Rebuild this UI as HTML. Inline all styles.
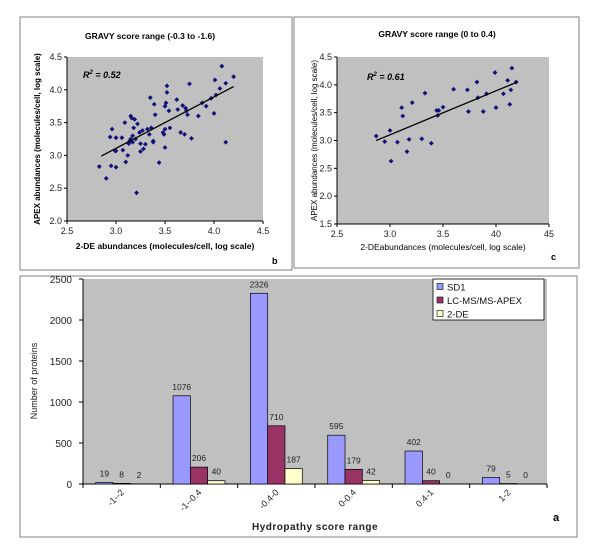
<!DOCTYPE html>
<html><head><meta charset="utf-8"><style>
body{margin:0;background:#fff;width:600px;height:556px;overflow:hidden;font-family:"Liberation Sans",Arial,sans-serif}
svg{display:block}
text{font-family:"Liberation Sans",Arial,sans-serif}
</style></head><body>
<svg id="fig" width="600" height="556" viewBox="0 0 600 556">
<rect x="20" y="17" width="272" height="253" fill="#fff" stroke="#808080" stroke-width="1"/>
<rect x="294" y="17" width="285" height="251" fill="#fff" stroke="#808080" stroke-width="1"/>
<rect x="20" y="276" width="557" height="261" fill="#fff" stroke="#808080" stroke-width="1"/>
<g id="pb"></g>
<g id="pc"></g>
<g id="pa"></g>
</svg>
<script>
// Panel b data
const bX=[2.83,2.9,2.95,2.94,2.96,2.99,3.0,3.0,3.0,3.06,3.07,3.09,3.1,3.12,3.13,3.14,3.15,3.16,3.17,3.18,3.19,3.2,3.21,3.22,3.15,3.17,3.24,3.25,3.25,3.27,3.28,3.3,3.32,3.34,3.35,3.36,3.38,3.38,3.39,3.4,3.44,3.48,3.49,3.5,3.5,3.5,3.51,3.52,3.52,3.54,3.55,3.62,3.63,3.66,3.68,3.7,3.71,3.72,3.73,3.75,3.77,3.84,3.88,3.92,3.97,4.0,4.01,4.02,4.06,4.08,4.12,4.12,4.2];
const bY=[2.83,2.65,2.84,3.28,3.4,3.07,3.07,2.82,3.27,3.27,3.08,3.5,2.9,3.0,3.18,3.22,3.6,3.57,3.3,3.42,3.55,3.25,2.43,3.48,3.25,3.2,3.35,3.06,3.18,3.38,3.1,3.17,3.4,3.32,3.88,3.42,3.22,3.2,3.78,3.62,2.89,3.35,3.32,3.12,3.75,3.4,3.8,3.96,4.06,3.68,3.42,3.85,3.7,3.35,3.76,3.32,3.72,3.68,3.62,4.09,3.26,3.6,3.8,3.75,3.87,3.64,4.15,3.92,4.02,4.36,4.1,3.2,4.2];
const bTrend=[[2.85,2.99],[4.2,4.05]];
const bXTicks=["2.5","3.0","3.5","4.0","4.5"];
const bYTicks=["2.0","2.5","3.0","3.5","4.0","4.5"];
// Panel c data
const cX=[2.87,2.95,3.0,3.01,3.07,3.11,3.12,3.16,3.18,3.21,3.3,3.33,3.39,3.44,3.46,3.45,3.5,3.6,3.73,3.74,3.82,3.83,3.88,3.91,3.99,4.0,4.07,4.11,4.13,4.14,4.15,4.19];
const cY=[3.08,2.98,3.18,2.63,2.97,3.59,3.44,2.8,3.02,3.68,3.03,3.85,2.95,3.54,3.54,3.45,3.6,3.92,3.91,3.52,4.05,3.77,3.52,3.84,4.22,3.59,3.84,4.08,3.65,3.91,4.3,4.05];
const cTrend=[[2.87,3.0],[4.2,4.05]];
const cXTicks=["2.5","3.0","3.5","40","45"];
const cYTicks=["1.5","2.0","2.5","3.0","3.5","4.0","4.5"];
// Panel a data
const categories=["-1 - -2","-1 - -0.4","-0.4 - 0","0 - 0.4","0.4 - 1","1 - 2"];
const sd1=[19,1076,2326,595,402,79];
const apex=[8,206,710,179,40,5];
const twoDE=[2,40,187,42,0,0];
const aYTicks=["0","500","1000","1500","2000","2500"];

const NS="http://www.w3.org/2000/svg";
function mk(parent,tag,attrs,txt){const e=document.createElementNS(NS,tag);for(const k in attrs)e.setAttribute(k,attrs[k]);if(txt!==undefined)e.textContent=txt;parent.appendChild(e);return e;}

function scatter(gid,o){
  const g=document.getElementById(gid);
  const sx=v=>o.x0+(v-o.xmin)/(o.xmax-o.xmin)*(o.x1-o.x0);
  const sy=v=>o.y1-(v-o.ymin)/(o.ymax-o.ymin)*(o.y1-o.y0);
  const bg=mk(g,'rect',{x:o.x0,y:o.y0,width:o.x1-o.x0,height:o.y1-o.y0,fill:'#c0c0c0'});
  
  
  mk(g,'line',{x1:o.x0,y1:o.y0,x2:o.x0,y2:o.y1,stroke:'#000','stroke-width':1});
  mk(g,'line',{x1:o.x0,y1:o.y1,x2:o.x1,y2:o.y1,stroke:'#000','stroke-width':1});
  o.xt.forEach((t,i)=>{const v=o.xmin+i*0.5,x=sx(v);
    mk(g,'line',{x1:x,y1:o.y1,x2:x,y2:o.y1+3,stroke:'#000'});
    const e=mk(g,'text',{x:x,y:o.y1+13,'font-size':9,'text-anchor':'middle',fill:'#222'},t);
    
    });
  o.yt.forEach((t,i)=>{const v=o.ymin+i*0.5,y=sy(v);
    mk(g,'line',{x1:o.x0-3,y1:y,x2:o.x0,y2:y,stroke:'#000'});
    const e=mk(g,'text',{x:o.x0-5,y:y+3,'font-size':9,'text-anchor':'end',fill:'#222'},t);
    
    });
  o.xs.forEach((xv,i)=>{const x=sx(xv),y=sy(o.ys[i]);
    const p=mk(g,'path',{d:`M${x} ${y-2.4}L${x+2.4} ${y}L${x} ${y+2.4}L${x-2.4} ${y}Z`,fill:'#10107a'});
    
    });
  const tl=mk(g,'line',{x1:sx(o.tr[0][0]),y1:sy(o.tr[0][1]),x2:sx(o.tr[1][0]),y2:sy(o.tr[1][1]),stroke:'#000','stroke-width':1.3});
  
  
  const r=mk(g,'text',{x:o.rx,y:o.ry,'font-size':9,'font-weight':'bold','font-style':'italic'});
  r.innerHTML='R<tspan dy="-4" font-size="6">2</tspan><tspan dy="4"> = '+o.r2+'</tspan>';
  
  
  const ti=mk(g,'text',{x:o.tx,y:o.ty,'font-size':8.5,'font-weight':'bold','text-anchor':'middle'},o.title);
  
  
  const xl=mk(g,'text',{x:(o.x0+o.x1)/2,y:o.xly,'font-size':8.5,'font-weight':o.bold?'bold':'normal','text-anchor':'middle'},o.xlabel);
  
  
  const yl=mk(g,'text',{x:0,y:0,'font-size':8,'font-weight':o.bold?'bold':'normal','text-anchor':'middle',transform:`translate(${o.ylx},${(o.y0+o.y1)/2}) rotate(-90)`},o.ylabel);
  
  
  const pl=mk(g,'text',{x:o.lx,y:o.ly,'font-size':9,'font-weight':'bold'},o.letter);
  
  
}
scatter('pb',{x0:67,x1:263,y0:57,y1:221,xmin:2.5,xmax:4.5,ymin:2.0,ymax:4.5,xt:bXTicks,yt:bYTicks,xs:bX,ys:bY,tr:bTrend,r2:'0.52',rx:83,ry:78,title:'GRAVY score range (-0.3 to -1.6)',tx:150,ty:39,xlabel:'2-DE abundances (molecules/cell, log scale)',xly:249,ylabel:'APEX abundances (molecules/cell, log scale)',ylx:40,bold:true,letter:'b',lx:272,ly:264});
scatter('pc',{x0:337,x1:549,y0:57,y1:224,xmin:2.5,xmax:4.5,ymin:1.5,ymax:4.5,xt:cXTicks,yt:cYTicks,xs:cX,ys:cY,tr:cTrend,r2:'0.61',rx:367,ry:80,title:'GRAVY score range (0 to 0.4)',tx:437,ty:37,xlabel:'2-DEabundances (molecules/cell, log scale)',xly:250,ylabel:'APEX abundances (molecules/cell, log scale)',ylx:317,bold:false,letter:'c',lx:551,ly:260});

(function(){
  const g=document.getElementById('pa');
  const X0=83,X1=547,Y0=279,Y1=484,ymax=2500;
  const sy=v=>Y1-v/ymax*(Y1-Y0);
  const cw=(X1-X0)/categories.length;
  const bg=mk(g,'rect',{x:X0,y:Y0,width:X1-X0,height:Y1-Y0,fill:'#c0c0c0'});
  
  
  mk(g,'line',{x1:X0,y1:Y0,x2:X0,y2:Y1,stroke:'#000'});
  mk(g,'line',{x1:X0,y1:Y1,x2:X1,y2:Y1,stroke:'#000'});
  aYTicks.forEach((t,i)=>{const y=sy(i*500);
    mk(g,'line',{x1:X0-4,y1:y,x2:X0,y2:y,stroke:'#000'});
    const e=mk(g,'text',{x:X0-11,y:y+4,'font-size':10,'text-anchor':'end',fill:'#222'},t);
    
    });
  for(let i=0;i<=categories.length;i++){const x=X0+i*cw;mk(g,'line',{x1:x,y1:Y1,x2:x,y2:Y1+4,stroke:'#000'});}
  const series=[sd1,apex,twoDE],cols=['#9999ff','#993366','#ffffcc'],names=['sd1','lc-ms-apex','2-de'];
  const bw=17.3,off=(cw-3*bw)/2;
  categories.forEach((c,i)=>{
    series.forEach((s,j)=>{const x=X0+i*cw+off+j*bw,y=sy(s[i]);
      const r=mk(g,'rect',{x:x,y:y,width:bw,height:Y1-y,fill:cols[j],stroke:'#000','stroke-width':0.7});
      
      
      const t=mk(g,'text',{x:x+bw/2,y:y-6,'font-size':8.5,'text-anchor':'middle',fill:'#222'},String(s[i]));
      
      });
    const cx=X0+i*cw+cw/2+3;
    const l=mk(g,'text',{x:0,y:0,'font-size':9,'text-anchor':'end',fill:'#222',transform:`translate(${cx},${Y1+9}) rotate(-45)`},c.replace(/ /g,''));
    
    
  });
  const lg=mk(g,'g',{});
  
  
  mk(lg,'rect',{x:433,y:279,width:111,height:41,fill:'#fff',stroke:'#000','stroke-width':0.8});
  ['SD1','LC-MS/MS-APEX','2-DE'].forEach((n,j)=>{const y=287+j*13.5;
    const e=mk(lg,'rect',{x:437,y:y-3.5,width:6,height:6,fill:cols[j],stroke:'#000','stroke-width':0.6});
    
    
    const t=mk(lg,'text',{x:447,y:y+3.5,'font-size':9.5,fill:'#111'},n);
    
    });
  const xt=mk(g,'text',{x:315,y:530,'font-size':10,'font-weight':'bold','text-anchor':'middle','letter-spacing':'0.5',fill:'#222'},'Hydropathy score range');
  
  
  const yt=mk(g,'text',{x:0,y:0,'font-size':9,'text-anchor':'middle',fill:'#222',transform:`translate(37,381) rotate(-90)`},'Number of proteins');
  
  
  const a=mk(g,'text',{x:553,y:521,'font-size':11,'font-weight':'bold'},'a');
  
  
})();
</script>
</body></html>
